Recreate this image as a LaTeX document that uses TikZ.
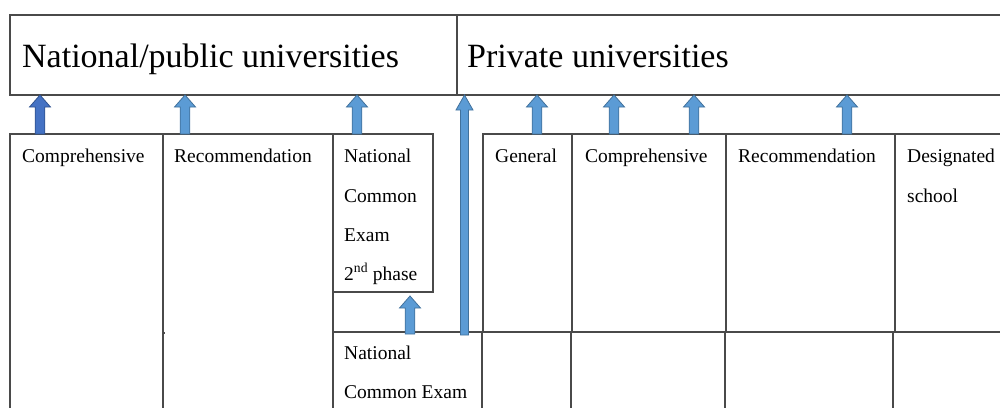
\documentclass[tikz,border=0pt]{standalone}
\usepackage{fontspec}
\setmainfont{Liberation Serif}
\usetikzlibrary{calc}

\definecolor{gridline}{HTML}{4A4A4A}
\definecolor{arrowfill}{HTML}{5B9BD5}
\definecolor{arrowedge}{HTML}{41719C}
\definecolor{arrowfilldark}{HTML}{4472C4}
\definecolor{arrowedgedark}{HTML}{2F528F}

\tikzset{
  box/.style={draw=gridline, line width=1.3pt, inner sep=0pt, outer sep=0pt, anchor=north west},
  cell/.style={box, line width=1.2pt},
  head/.style={font=\fontsize{34}{40}\selectfont, anchor=base west, inner sep=0pt},
  lbl/.style={font=\fontsize{19.5}{23}\selectfont, anchor=base west, inner sep=0pt},
  flow/.style={fill=arrowfill, draw=arrowedge, line width=0.8pt, line join=miter},
  flowdark/.style={flow, fill=arrowfilldark, draw=arrowedgedark},
}

% block arrow pointing up: column coordinate, tail anchor, tip anchor
\def\shaftw{4.8}\def\headw{10.5}\def\headl{12}
\newcommand\blockarrow[4][flow]{%
  \filldraw[#1] ($(#2 |- #3)+(-\shaftw,0)$) |- ($(#2 |- #4)+(-\headw,\headl)$)
    -- (#2 |- #4) -- ($(#2 |- #4)+(\headw,\headl)$) -| ($(#2 |- #3)+(\shaftw,0)$) -- cycle;}

\begin{document}
\begin{tikzpicture}[x=1pt,y=-1pt]
\useasboundingbox (0,0) rectangle (1000,407);
\clip (0,0) rectangle (1000,407);

% header row
\node[box, minimum width=447, minimum height=80] (hdrNat) at (10,15) {};
\node[box, minimum width=553, minimum height=80] (hdrPriv) at (457,15) {};
\node[head] (tNat) at (22,67) {National/public universities};
\node[head] (tPriv) at (467,67) {Private universities};

% national/public admission routes
\node[cell, minimum width=153, minimum height=286] (comp) at (10,134) {};
\node[cell, minimum width=170, minimum height=286] (rec) at (163,134) {};
\node[cell, minimum width=100, minimum height=158] (nce2) at (333,134) {};
\node[cell, minimum width=149, minimum height=88] (nce) at (333,332) {};
\fill[gridline] (162,332) rectangle (165,334);

% private admission routes
\node[cell, minimum width=89, minimum height=198] (pgen) at (483,134) {};
\node[cell, minimum width=154, minimum height=198] (pcomp) at (572,134) {};
\node[cell, minimum width=169, minimum height=198] (prec) at (726,134) {};
\node[cell, minimum width=115, minimum height=198] (pdes) at (895,134) {};
\node[cell, minimum width=89, minimum height=88] (q1) at (482,332) {};
\node[cell, minimum width=154, minimum height=88] (q2) at (571,332) {};
\node[cell, minimum width=168, minimum height=88] (q3) at (725,332) {};
\node[cell, minimum width=117, minimum height=88] (q4) at (893,332) {};

% labels
\node[lbl] (lComp) at (22,162) {Comprehensive};
\node[lbl] (lRec) at (174,162) {Recommendation};
\node[lbl] (lNceA) at (344,162) {National};
\node[lbl] (lNceB) at (344,202) {Common};
\node[lbl] (lNceC) at (344,241) {Exam};
\node[lbl] (lNceD) at (344,280) {2\textsuperscript{nd} phase};
\node[lbl] (lNceE) at (344,359) {National};
\node[lbl] (lNceF) at (344,398) {Common Exam};
\node[lbl] (lGen) at (495,162) {General};
\node[lbl] (lPComp) at (585,162) {Comprehensive};
\node[lbl] (lPRec) at (738,162) {Recommendation};
\node[lbl] (lDesA) at (907,162) {Designated};
\node[lbl] (lDesB) at (907,202) {school};

% arrow columns
\coordinate (a1) at (40,0);
\coordinate (a2) at (185,0);
\coordinate (a3) at (357,0);
\coordinate (a4) at (464.5,0);
\coordinate (a5) at (410,0);
\coordinate (b1) at (537,0);
\coordinate (b2) at (614,0);
\coordinate (b3) at (694,0);
\coordinate (b4) at (847,0);
\coordinate (longTail) at ($(nce.north)+(0,3)$);
\coordinate (smallTail) at ($(nce.north)+(0,2)$);
\coordinate (smallTip) at ($(nce2.south)+(0,4)$);

\blockarrow[flowdark]{a1}{comp.north}{hdrNat.south}
\blockarrow{a2}{rec.north}{hdrNat.south}
\blockarrow{a3}{nce2.north}{hdrNat.south}
\blockarrow{a5}{smallTail}{smallTip}
\blockarrow{b1}{pgen.north}{hdrPriv.south}
\blockarrow{b2}{pcomp.north}{hdrPriv.south}
\blockarrow{b3}{pcomp.north}{hdrPriv.south}
\blockarrow{b4}{prec.north}{hdrPriv.south}
\def\shaftw{4}\def\headw{8.5}\def\headl{15}
\blockarrow{a4}{longTail}{hdrPriv.south}
\end{tikzpicture}
\end{document}
